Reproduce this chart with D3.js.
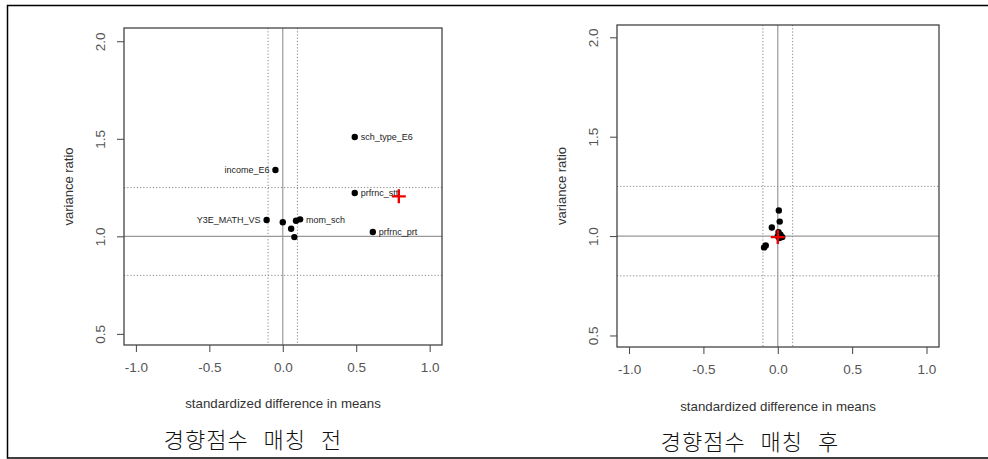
<!DOCTYPE html>
<html>
<head>
<meta charset="utf-8">
<script src="https://cdn.jsdelivr.net/npm/d3@7"></script>
<style>
  body { margin: 0; background: #fff; }
  text { font-family: "Liberation Sans", Arial, sans-serif; }
  .caption { font-family: "Noto Sans CJK KR", sans-serif; }
</style>
</head>
<body>
<div id="chart"></div>
<script>
// DATA
////////////////////////////
// before matching
var beforeX = [0.49, -0.05, 0.49, -0.11, 0.0, 0.057, 0.079, 0.09, 0.118, 0.613];
var beforeY = [1.509, 1.34, 1.222, 1.084, 1.072, 1.039, 0.996, 1.08, 1.087, 1.022];
var beforeLabels = ["sch_type_E6", "income_E6", "prfrnc_stt", "Y3E_MATH_VS", "", "", "", "", "mom_sch", "prfrnc_prt"];
var beforeSide = ["r", "l", "r", "l", "", "", "", "", "r", "r"];
var beforeCross = [0.79, 1.205];

// after matching
var afterX = [0.007, 0.013, -0.04, 0.03, 0.018, -0.092, -0.081, 0.005, 0.0, 0.01];
var afterY = [1.129, 1.073, 1.043, 0.995, 1.007, 0.943, 0.953, 1.02, 1.0, 0.99];
var afterCross = [0.0, 0.995];

var xTicks = [-1.0, -0.5, 0.0, 0.5, 1.0];
var yTicks = [0.5, 1.0, 1.5, 2.0];
var refV = [-0.1, 0.1];      // dotted vertical
var refH = [0.8, 1.25];      // dotted horizontal
var xTitle = "standardized difference in means";
var yTitle = "variance ratio";
var captions = ["경향점수 매칭 전", "경향점수 매칭 후"];

// SETUP
////////////////////////////
var width = 988, height = 459;

var svg = d3.select("#chart").append("svg")
    .attr("width", width)
    .attr("height", height);

// outer frame (open on the right, like the scan)
svg.append("path")
    .attr("d", "M988,5.5 H7.5 V458 H988")
    .attr("fill", "none")
    .attr("stroke", "#000")
    .attr("stroke-width", 1.5);

// R prints a plain hyphen, not the unicode minus
var fmt = function(d) { return d.toFixed(1); };

function drawPanel(p) {
  var x = d3.scaleLinear().domain([-1.081, 1.084]).range([p.left, p.right]);
  var y = d3.scaleLinear().domain(p.ydom).range([p.bottom, p.top]);
  var g = svg.append("g");

  // reference lines
  g.selectAll(".rv").data(refV).enter().append("line")
      .attr("x1", d => x(d)).attr("x2", d => x(d))
      .attr("y1", p.top).attr("y2", p.bottom)
      .attr("stroke", "#888").attr("stroke-dasharray", "1.2,2");
  g.selectAll(".rh").data(refH).enter().append("line")
      .attr("y1", d => y(d)).attr("y2", d => y(d))
      .attr("x1", p.left).attr("x2", p.right)
      .attr("stroke", "#888").attr("stroke-dasharray", "1.2,2");
  g.append("line")
      .attr("x1", x(0)).attr("x2", x(0)).attr("y1", p.top).attr("y2", p.bottom)
      .attr("stroke", "#999").attr("stroke-width", 1.2);
  g.append("line")
      .attr("y1", y(1)).attr("y2", y(1)).attr("x1", p.left).attr("x2", p.right)
      .attr("stroke", "#999").attr("stroke-width", 1.2);

  // axes (ticks only, box drawn separately)
  var xa = g.append("g")
      .attr("transform", "translate(0," + p.bottom + ")")
      .call(d3.axisBottom(x).tickValues(xTicks).tickSize(7).tickPadding(10).tickFormat(fmt));
  var ya = g.append("g")
      .attr("transform", "translate(" + p.left + ",0)")
      .call(d3.axisLeft(y).tickValues(yTicks).tickSize(7).tickFormat(fmt));
  [xa, ya].forEach(function(a) {
    a.select(".domain").remove();
    a.selectAll("line").attr("stroke", "#444");
    a.selectAll("text").attr("fill", "#555").style("font-size", "13.5px")
        .style("font-family", "Liberation Sans, Arial, sans-serif");
  });
  // y tick labels run along the axis
  ya.selectAll("text")
      .attr("text-anchor", "middle")
      .attr("x", 0).attr("y", 0).attr("dy", "0.35em")
      .attr("transform", "translate(-24,0) rotate(-90)");

  // plot box
  g.append("rect")
      .attr("x", p.left).attr("y", p.top)
      .attr("width", p.right - p.left).attr("height", p.bottom - p.top)
      .attr("fill", "none").attr("stroke", "#444").attr("stroke-width", 1.3);

  // points
  g.selectAll(".pt").data(p.xs).enter().append("circle")
      .attr("cx", d => x(d))
      .attr("cy", (d, i) => y(p.ys[i]))
      .attr("r", 3.2)
      .attr("fill", "#000");

  // point labels
  if (p.labels) {
    var idx = d3.range(p.labels.length).filter(i => p.labels[i] !== "");
    g.selectAll(".lab").data(idx).enter().append("text")
        .attr("x", i => x(p.xs[i]) + (p.side[i] === "l" ? -6 : 6))
        .attr("y", i => y(p.ys[i]))
        .attr("dy", "0.35em")
        .attr("text-anchor", i => p.side[i] === "l" ? "end" : "start")
        .attr("fill", "#222")
        .style("font-size", "9px")
        .text(i => p.labels[i]);
  }

  // red cross (mean)
  var cx = x(p.cross[0]), cy = y(p.cross[1]);
  g.append("path")
      .attr("d", "M" + (cx - 7) + "," + cy + "H" + (cx + 7) + "M" + cx + "," + (cy - 7) + "V" + (cy + 7))
      .attr("stroke", "#e00").attr("stroke-width", 2.4);

  // axis titles
  g.append("text")
      .attr("x", (p.left + p.right) / 2).attr("y", p.xtY)
      .attr("text-anchor", "middle").attr("dy", "0.35em")
      .attr("fill", "#333").style("font-size", "13.3px")
      .text(xTitle);
  g.append("text")
      .attr("transform", "translate(" + p.ytX + "," + ((p.top + p.bottom) / 2) + ") rotate(-90)")
      .attr("text-anchor", "middle").attr("dy", "0.35em")
      .attr("fill", "#333").style("font-size", "13px")
      .text(yTitle);

  // caption
  g.append("text")
      .attr("class", "caption")
      .attr("x", p.capX).attr("y", p.capY)
      .attr("text-anchor", "middle").attr("dy", "0.35em")
      .attr("fill", "#111").style("font-size", "22px").style("font-weight", 300)
      .style("word-spacing", "9px").style("letter-spacing", "1px")
      .text(p.caption);
}

drawPanel({
  left: 124, right: 442, top: 28, bottom: 345, ydom: [0.443, 2.068],
  xs: beforeX, ys: beforeY, labels: beforeLabels, side: beforeSide, cross: beforeCross,
  xtY: 403, ytX: 68, capX: 253, capY: 440, caption: captions[0]
});

drawPanel({
  left: 617, right: 939, top: 25, bottom: 347, ydom: [0.442, 2.062],
  xs: afterX, ys: afterY, labels: null, cross: afterCross,
  xtY: 406, ytX: 561, capX: 750, capY: 442, caption: captions[1]
});
</script>
</body>
</html>
